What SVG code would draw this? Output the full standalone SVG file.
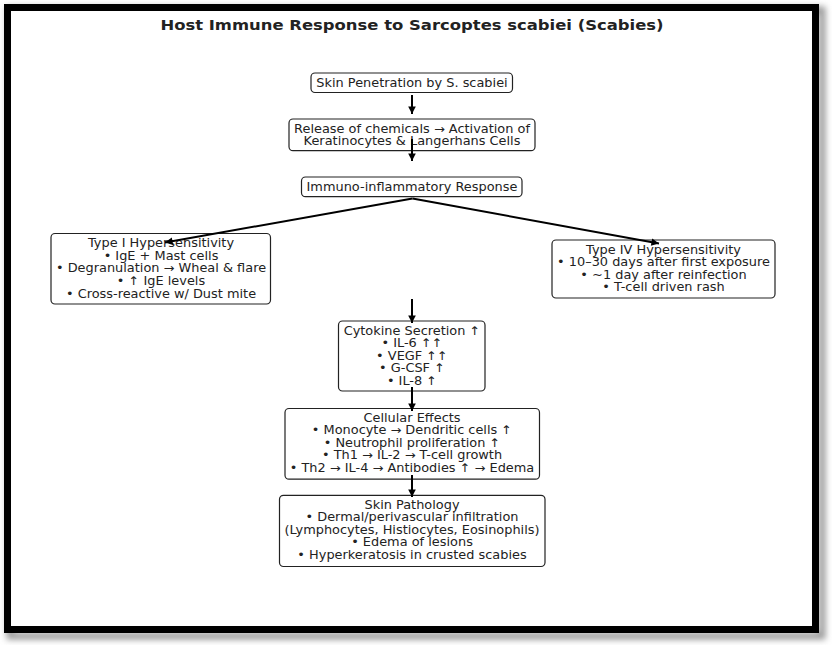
<svg xmlns="http://www.w3.org/2000/svg" width="832" height="645" viewBox="0 0 832 645">
<defs>
<filter id="sh" x="-5%" y="-5%" width="110%" height="110%"><feGaussianBlur stdDeviation="3"/></filter>
<marker id="ah" viewBox="0 0 10 10" refX="10" refY="5" markerWidth="4.4" markerHeight="3.8" orient="auto" markerUnits="strokeWidth">
<path d="M0,0 L10,5 L0,10 z" fill="#000"/>
</marker>
<style>
.box{fill:#fff;stroke:#222;stroke-width:1.2}
.t{font-family:"DejaVu Sans",sans-serif;font-size:11.9px;fill:#222;text-anchor:middle}
.ttl{font-family:"DejaVu Sans",sans-serif;font-size:14.8px;font-weight:bold;fill:#222;text-anchor:middle}
.c{stroke:#000;stroke-width:2;fill:none;marker-end:url(#ah)}
</style>
</defs>
<rect x="0" y="0" width="832" height="645" fill="#fff"/>
<g id="frame">
<rect x="10" y="10" width="812" height="626" fill="none" stroke="#999" stroke-width="7" filter="url(#sh)"/>
<rect x="7.5" y="7.5" width="808" height="622" fill="#fff" stroke="#000" stroke-width="7"/>
</g>
<text class="ttl" transform="translate(412,30) scale(1.11,1)">Host Immune Response to Sarcoptes scabiei (Scabies)</text>
<g id="n1">
<rect class="box" x="311" y="73" width="201.5" height="19.5" rx="4"/>
<text class="t" transform="translate(412,0) scale(1.085,1)"><tspan x="0" y="86.7">Skin Penetration by S. scabiei</tspan></text>
</g>
<g id="n2">
<rect class="box" x="289" y="119" width="246" height="31.7" rx="4"/>
<text class="t" transform="translate(412,0) scale(1.085,1)"><tspan x="0" y="132.7">Release of chemicals → Activation of</tspan><tspan x="0" y="145.3">Keratinocytes &amp; Langerhans Cells</tspan></text>
</g>
<g id="n3">
<rect class="box" x="301.5" y="177" width="220.5" height="19.7" rx="4"/>
<text class="t" transform="translate(412,0) scale(1.085,1)"><tspan x="0" y="191.2">Immuno-inflammatory Response</tspan></text>
</g>
<g id="n4">
<rect class="box" x="51" y="233.5" width="219.5" height="70.5" rx="4"/>
<text class="t" transform="translate(161,0) scale(1.085,1)"><tspan x="0" y="247.2">Type I Hypersensitivity</tspan><tspan x="0" y="259.8">• IgE + Mast cells</tspan><tspan x="0" y="272.4">• Degranulation → Wheal &amp; flare</tspan><tspan x="0" y="285">• ↑ IgE levels</tspan><tspan x="0" y="297.6">• Cross-reactive w/ Dust mite</tspan></text>
</g>
<g id="n5">
<rect class="box" x="552" y="240" width="223" height="58" rx="4"/>
<text class="t" transform="translate(663.5,0) scale(1.085,1)"><tspan x="0" y="253.7">Type IV Hypersensitivity</tspan><tspan x="0" y="266.2">• 10–30 days after first exposure</tspan><tspan x="0" y="278.7">• ~1 day after reinfection</tspan><tspan x="0" y="291.2">• T-cell driven rash</tspan></text>
</g>
<g id="n6">
<rect class="box" x="338.5" y="321" width="146.5" height="70" rx="4"/>
<text class="t" transform="translate(412,0) scale(1.085,1)"><tspan x="0" y="334.7">Cytokine Secretion ↑</tspan><tspan x="0" y="347.2">• IL-6 ↑↑</tspan><tspan x="0" y="359.7">• VEGF ↑↑</tspan><tspan x="0" y="372.2">• G-CSF ↑</tspan><tspan x="0" y="384.7">• IL-8 ↑</tspan></text>
</g>
<g id="n7">
<rect class="box" x="285" y="408.5" width="254.5" height="70.7" rx="4"/>
<text class="t" transform="translate(412,0) scale(1.085,1)"><tspan x="0" y="421.7">Cellular Effects</tspan><tspan x="0" y="434.2">• Monocyte → Dendritic cells ↑</tspan><tspan x="0" y="446.8">• Neutrophil proliferation ↑</tspan><tspan x="0" y="459.4">• Th1 → IL-2 → T-cell growth</tspan><tspan x="0" y="472">• Th2 → IL-4 → Antibodies ↑ → Edema</tspan></text>
</g>
<g id="n8">
<rect class="box" x="279.5" y="495.3" width="265.5" height="71.2" rx="4"/>
<text class="t" transform="translate(412,0) scale(1.085,1)"><tspan x="0" y="508.7">Skin Pathology</tspan><tspan x="0" y="521.3">• Dermal/perivascular infiltration</tspan><tspan x="0" y="533.9">(Lymphocytes, Histiocytes, Eosinophils)</tspan><tspan x="0" y="546.5">• Edema of lesions</tspan><tspan x="0" y="559.1">• Hyperkeratosis in crusted scabies</tspan></text>
</g>
<g id="connectors">
<line class="c" x1="412" y1="95" x2="412" y2="114"/>
<line class="c" x1="412" y1="139" x2="412" y2="161"/>
<line class="c" x1="412.5" y1="198.5" x2="165" y2="242.5"/>
<line class="c" x1="412.5" y1="198.5" x2="659" y2="243.5"/>
<line class="c" x1="412" y1="299" x2="412" y2="323"/>
<line class="c" x1="412" y1="387" x2="412" y2="411"/>
<line class="c" x1="412" y1="475" x2="412" y2="497"/>
</g>
</svg>
